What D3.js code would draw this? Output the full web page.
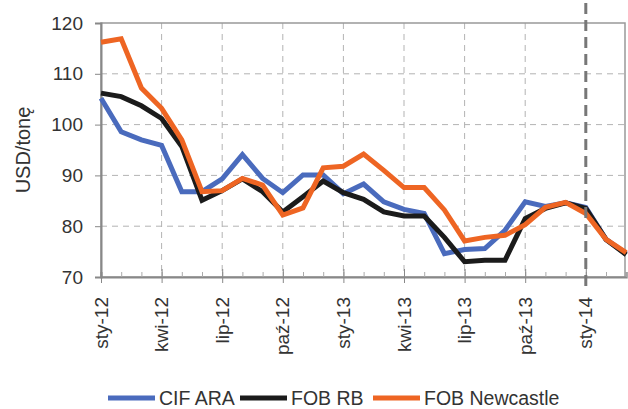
<!DOCTYPE html>
<html>
<head>
<meta charset="utf-8">
<script src="https://cdn.jsdelivr.net/npm/d3@7"></script>
<style>
  body { margin: 0; background: #fff; }
  svg { display: block; font-family: "Liberation Sans", Arial, sans-serif; }
</style>
</head>
<body>
<div class="chart"></div>
<script>
const months = ["sty-12","lut-12","mar-12","kwi-12","maj-12","cze-12","lip-12","sie-12","wrz-12","paź-12","lis-12","gru-12",
  "sty-13","lut-13","mar-13","kwi-13","maj-13","cze-13","lip-13","sie-13","wrz-13","paź-13","lis-13","gru-13",
  "sty-14","lut-14","mar-14"]
const tickLabels = ["sty-12","kwi-12","lip-12","paź-12","sty-13","kwi-13","lip-13","paź-13","sty-14"]
const yTicks = [70, 80, 90, 100, 110, 120]

const cifAra = [105.2, 98.6, 97, 95.9, 86.8, 86.8, 89.3, 94.1, 89.4, 86.6, 90.1, 90.1,
  86.4, 88.3, 84.8, 83.3, 82.5, 74.6, 75.4, 75.6, 79.2, 84.8, 83.9, 84.6, 83.7, 77.4, 74.6]
const fobRb = [106.2, 105.5, 103.7, 101.2, 95.7, 85.1, 87, 89.3, 86.8, 82.8, 85.8, 88.9,
  86.6, 85.3, 82.8, 82, 82, 77.8, 73, 73.3, 73.3, 81.5, 83.5, 84.6, 83.5, 77.4, 74.4]
const fobNewcastle = [116.2, 116.9, 107.2, 103.2, 97, 86.8, 87, 89.4, 88.1, 82.2, 83.6, 91.5,
  91.8, 94.2, 91, 87.6, 87.6, 83.2, 77.1, 77.8, 78.2, 80.3, 83.7, 84.7, 82.5, 77.4, 74.8]

const series = [
  { name: "CIF ARA", values: cifAra, color: "#4a6bbd" },
  { name: "FOB RB", values: fobRb, color: "#1b1b1b" },
  { name: "FOB Newcastle", values: fobNewcastle, color: "#ee6523" }
]

const W = 628, H = 409
const m = { left: 101, right: 625, top: 23, bottom: 277 }

const svg = d3.select(".chart").append("svg")
  .attr("width", W).attr("height", H)

const x = d3.scalePoint().domain(months).range([m.left, m.left + 20.2 * 26])
const y = d3.scaleLinear().domain([70, 120]).range([m.bottom, m.top])

// grid
svg.append("g").selectAll("line")
  .data(yTicks.filter(v => v > 70 && v < 120))
  .enter().append("line")
    .attr("x1", m.left).attr("x2", m.right)
    .attr("y1", d => y(d)).attr("y2", d => y(d))
    .attr("stroke", "#b3b3b3").attr("stroke-width", 1)
    .attr("stroke-dasharray", "6,5")

svg.append("g").selectAll("line")
  .data(tickLabels.filter(t => t !== "sty-12" && t !== "sty-14"))
  .enter().append("line")
    .attr("x1", d => x(d)).attr("x2", d => x(d))
    .attr("y1", m.top).attr("y2", m.bottom)
    .attr("stroke", "#b3b3b3").attr("stroke-width", 1)
    .attr("stroke-dasharray", "6,5")

// frame
svg.append("rect")
  .attr("x", m.left).attr("y", m.top)
  .attr("width", m.right - m.left).attr("height", m.bottom - m.top)
  .attr("fill", "none").attr("stroke", "#999").attr("stroke-width", 1.5)

// y axis
const yAxis = svg.append("g")
  .attr("transform", `translate(${m.left},0)`)
  .call(d3.axisLeft(y).tickValues(yTicks).tickSize(6).tickPadding(12))
yAxis.select(".domain").attr("stroke", "#888").attr("stroke-width", 2)
yAxis.selectAll(".tick line").attr("stroke", "#888")
yAxis.selectAll("text").attr("font-size", 19).attr("fill", "#333")
  .attr("font-family", "Liberation Sans, Arial, sans-serif")

svg.append("text")
  .attr("transform", "translate(30,150) rotate(-90)")
  .attr("text-anchor", "middle")
  .attr("font-size", 20).attr("fill", "#333")
  .text("USD/tonę")

// x axis: minor monthly ticks
const xAxis = svg.append("g")
  .attr("transform", `translate(0,${m.bottom})`)
  .call(d3.axisBottom(x).tickValues(months).tickSize(-5).tickFormat(""))
xAxis.select(".domain").attr("stroke", "#888").attr("stroke-width", 2)
xAxis.selectAll(".tick line").attr("stroke", "#aaa")

const xLab = svg.append("g")
  .attr("transform", `translate(0,${m.bottom})`)
  .call(d3.axisBottom(x).tickValues(tickLabels).tickSize(5).tickPadding(0))
xLab.select(".domain").remove()
xLab.selectAll(".tick line").attr("stroke", "#888").attr("y1", -8).attr("y2", 6)
xLab.selectAll("text")
  .attr("font-size", 19).attr("fill", "#333")
  .attr("font-family", "Liberation Sans, Arial, sans-serif")
  .attr("text-anchor", "end")
  .attr("dy", null)
  .attr("transform", "translate(6,20) rotate(-90)")
  .attr("x", 0).attr("y", 0)

// lines
const line = d3.line()
  .x((d, i) => x(months[i]))
  .y(d => y(d))

svg.append("g").selectAll("path")
  .data(series)
  .enter().append("path")
    .attr("d", d => line(d.values))
    .attr("fill", "none")
    .attr("stroke", d => d.color)
    .attr("stroke-width", 5)
    .attr("stroke-linejoin", "miter")

// dashed marker at sty-14
svg.append("line")
  .attr("x1", x("sty-14")).attr("x2", x("sty-14"))
  .attr("y1", 3).attr("y2", 292)
  .attr("stroke", "#777").attr("stroke-width", 3)
  .attr("stroke-dasharray", "11,6")

// legend
const legendX = [108, 240, 373]
const lg = svg.append("g").selectAll("g")
  .data(series)
  .enter().append("g")
    .attr("transform", (d, i) => `translate(${legendX[i]},398)`)
lg.append("line")
  .attr("x1", 0).attr("x2", 47)
  .attr("stroke", d => d.color).attr("stroke-width", 5)
lg.append("text")
  .attr("x", 51).attr("y", 7)
  .attr("font-size", 19.5).attr("fill", "#333")
  .text(d => d.name)
</script>
</body>
</html>
